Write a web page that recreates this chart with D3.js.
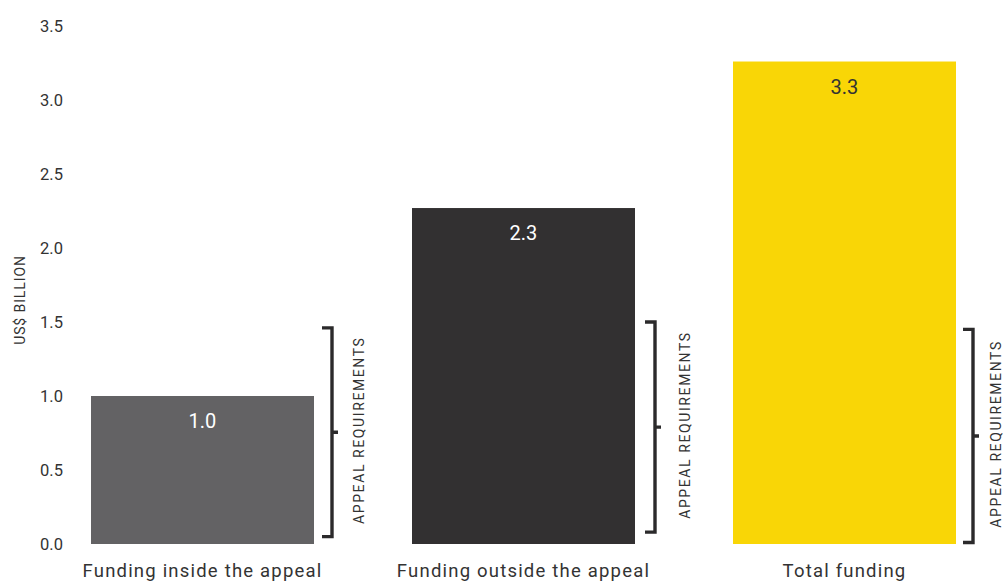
<!DOCTYPE html>
<html><head><meta charset="utf-8">
<script src="https://cdn.jsdelivr.net/npm/d3@7"></script>
<style>body{margin:0;background:#fff;} svg{display:block;}</style>
</head><body>
<svg id="c" width="1003" height="584"></svg>
<script>
const categories = ["Funding inside the appeal", "Funding outside the appeal", "Total funding"];
const values = [1.0, 2.27, 3.26];
const valueLabels = ["1.0", "2.3", "3.3"];
const barColors = ["#636264", "#323031", "#f9d606"];
const labelColors = ["#ffffff", "#ffffff", "#333333"];
const yTicks = [0, 0.5, 1.0, 1.5, 2.0, 2.5, 3.0, 3.5];
const bracketTop = [1.46, 1.50, 1.45];
const bracketBottom = [0.05, 0.08, 0.01];
const bracketLabel = "APPEAL REQUIREMENTS";

const svg = d3.select("#c");
const font = "Roboto, 'DejaVu Sans', sans-serif";
const y = d3.scaleLinear().domain([0, 3.5]).range([544, 26]);
const x = d3.scaleBand().domain(categories).range([91, 91 + 223 * 3 + 98 * 2]).paddingInner(98 / 321).paddingOuter(0);

// y axis
const yAxis = d3.axisLeft(y).tickValues(yTicks).tickFormat(d3.format(".1f")).tickSize(0).tickPadding(0);
const gy = svg.append("g").attr("transform", "translate(63,0)").call(yAxis);
gy.select(".domain").remove();
gy.selectAll("text").attr("font-family", font).attr("font-size", 16.5).attr("fill", "#333").attr("dy", "0.35em");

svg.append("text").attr("transform", "translate(25,300) rotate(-90)")
  .attr("text-anchor", "middle").attr("font-family", font).attr("font-size", 14).attr("fill", "#333")
  .attr("letter-spacing", 0.9).text("US$ BILLION");

// bars
svg.selectAll("rect.bar").data(categories).enter().append("rect")
  .attr("x", d => x(d)).attr("width", x.bandwidth())
  .attr("y", (d, i) => y(values[i])).attr("height", (d, i) => y(0) - y(values[i]))
  .attr("fill", (d, i) => barColors[i]);

// value labels
svg.selectAll("text.val").data(categories).enter().append("text")
  .attr("x", d => x(d) + x.bandwidth() / 2).attr("y", (d, i) => y(values[i]) + 32)
  .attr("text-anchor", "middle").attr("font-family", font).attr("font-size", 20)
  .attr("fill", (d, i) => labelColors[i]).text((d, i) => valueLabels[i]);

// category labels
const gx = svg.append("g").attr("transform", "translate(0,544)")
  .call(d3.axisBottom(x).tickSize(0).tickPadding(0));
gx.select(".domain").remove();
gx.selectAll("text").attr("font-family", font).attr("font-size", 18.5).attr("fill", "#333")
  .attr("letter-spacing", 1.2).attr("dy", "0").attr("y", 33);

// brackets
const bracketOffset = [18, 20, 17];
const labelOffset = [32, 35, 28];
categories.forEach((c, i) => {
  const bx = x(c) + x.bandwidth() + bracketOffset[i];
  const t = y(bracketTop[i]), b = y(bracketBottom[i]);
  const m = (t + b) / 2;
  const p = d3.path();
  p.moveTo(bx - 10, t); p.lineTo(bx, t); p.lineTo(bx, b); p.lineTo(bx - 10, b);
  p.moveTo(bx, m); p.lineTo(bx + 6, m);
  svg.append("path").attr("d", p.toString()).attr("fill", "none")
    .attr("stroke", "#2b2a2b").attr("stroke-width", 3.4);
  svg.append("text").attr("transform", `translate(${bx + labelOffset[i]},${m - 2}) rotate(-90)`)
    .attr("text-anchor", "middle").attr("font-family", font).attr("font-size", 14).attr("fill", "#333")
    .attr("letter-spacing", 1.6).text(bracketLabel);
});
</script>
</body></html>
